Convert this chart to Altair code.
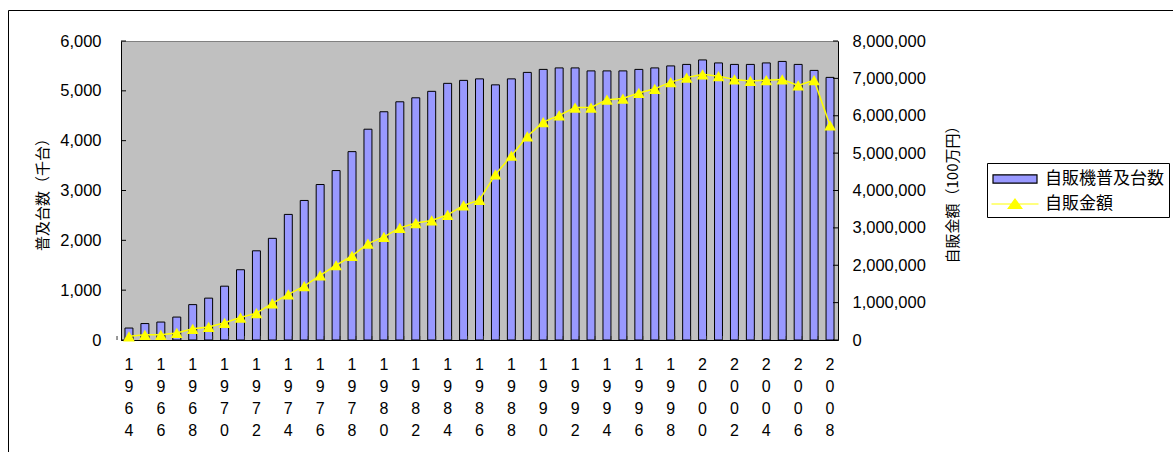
import altair as alt
import pandas as pd

years = list(range(1964, 2009))
units = [240, 330, 360, 460, 710, 840, 1080, 1410, 1790, 2040, 2520, 2800, 3120, 3400, 3780,
         4230, 4580, 4780, 4860, 4990, 5150, 5210, 5240, 5120, 5240, 5370, 5430, 5460, 5460, 5400,
         5400, 5400, 5430, 5460, 5500, 5530, 5620, 5560, 5530, 5530, 5560, 5590, 5530, 5410, 5270]
sales = [100000, 140000, 140000, 190000, 300000, 350000, 460000, 600000, 720000, 980000,
         1220000, 1440000, 1730000, 2000000, 2250000, 2580000, 2760000, 3000000, 3130000, 3200000,
         3350000, 3600000, 3750000, 4430000, 4930000, 5450000, 5830000, 6010000, 6220000, 6220000,
         6430000, 6460000, 6610000, 6720000, 6900000, 7020000, 7110000, 7060000, 6970000, 6930000,
         6950000, 6970000, 6810000, 6950000, 5740000]
left_ticks = [0, 1000, 2000, 3000, 4000, 5000, 6000]
right_ticks = [0, 1000000, 2000000, 3000000, 4000000, 5000000, 6000000, 7000000, 8000000]

S_BAR = "自販機普及台数"
S_LINE = "自販金額"
LEFT_TITLE = "普及台数（千台）"
RIGHT_TITLE = "自販金額（100万円）"

W, H = 717, 299
PAD_L, PAD_T = 121, 41
step = W / len(years)
NUM_FONT = "Liberation Sans"
JP_FONT = "Noto Sans CJK JP"

df_bar = pd.DataFrame({"year": years, "units": units})
df_bar["series"] = S_BAR
df_line = pd.DataFrame({"year": years, "sales": sales})
df_line["series"] = S_LINE
lt = pd.DataFrame({"units": left_ticks})
rt = pd.DataFrame({"sales": right_ticks})

dom = [S_BAR, S_LINE]
fill_scale = alt.Scale(domain=dom, range=["#9999ff", "#ffff00"])
stroke_scale = alt.Scale(domain=dom, range=["#000000", "#ffff00"])
shape_scale = alt.Scale(domain=dom, range=["M-2.2,-0.42H2.2V0.42H-2.2Z",
                                           "M-2.35,0H2.35M-0.68,0.45L0.68,0.45L0,-0.5Z"])
legend = alt.Legend(
    title=None, orient="none", legendX=987 - PAD_L, legendY=163 - PAD_T,
    strokeColor="black", fillColor="white", padding=5,
    symbolSize=400, symbolOffset=12, labelOffset=19, rowPadding=6,
    symbolStrokeWidth=1.2, symbolOpacity=1,
    labelFont=JP_FONT, labelFontSize=17, labelColor="black",
)

xenc = alt.X("year:O", scale=alt.Scale(paddingInner=0.5, paddingOuter=0.25),
             axis=alt.Axis(title=None, labelAngle=0, ticks=False, domainColor="black",
                           labelExpr="toNumber(datum.value) % 2 == 0 ? split(datum.label, '') : ''",
                           labelLineHeight=22, labelPadding=16, labelBaseline="top",
                           labelFont=NUM_FONT, labelFontSize=16, labelColor="black"))

left_scale = alt.Scale(domain=[0, 6000])
right_scale = alt.Scale(domain=[0, 8000000])

left_axis = alt.Axis(orient="left", values=left_ticks, format=",.0f", ticks=False, grid=False,
                     domainColor="black", labelPadding=20, labelFont=NUM_FONT, labelFontSize=16.5,
                     labelColor="black", title=LEFT_TITLE, titleFont=JP_FONT, titleFontSize=15,
                     titleFontWeight="normal", titleColor="black", titleAngle=270,
                     titleBaseline="middle", titleX=42 - PAD_L, titleY=H / 2)
right_axis = alt.Axis(orient="right", values=right_ticks, format=",.0f", ticks=False, grid=False,
                      domainColor="black", labelPadding=14, labelFont=NUM_FONT, labelFontSize=16.5,
                      labelColor="black", title=RIGHT_TITLE, titleFont=JP_FONT, titleFontSize=15,
                      titleFontWeight="normal", titleColor="black", titleAngle=270,
                      titleBaseline="middle", titleX=952 - PAD_L - W, titleY=H / 2)

yl = alt.Y("units:Q", scale=left_scale, axis=left_axis, title=LEFT_TITLE)
yr = alt.Y("sales:Q", scale=right_scale, axis=right_axis, title=RIGHT_TITLE)

bars = alt.Chart(df_bar).mark_bar(strokeWidth=1).encode(
    x=xenc,
    y=yl,
    fill=alt.Fill("series:N", scale=fill_scale, legend=legend),
    stroke=alt.Stroke("series:N", scale=stroke_scale, legend=legend),
)
xticks = alt.Chart(df_bar).mark_rule(color="#333333", strokeWidth=1).encode(
    x=alt.X("year:O"),
    xOffset=alt.value(-step / 2),
    y=alt.value(H - 4), y2=alt.value(H),
)
lticks = alt.Chart(lt).mark_rule(color="black").encode(
    y=yl,
    x=alt.value(0), x2=alt.value(5),
)
border = alt.Chart(alt.Data(values=[{"a": 1}])).mark_rect(
    fill="transparent", stroke="black", strokeWidth=1
).encode(x=alt.value(8.5 - PAD_L), x2=alt.value(1300), y=alt.value(10.5 - PAD_T), y2=alt.value(600))

line = alt.Chart(df_line).mark_line(strokeWidth=1.5).encode(
    x=alt.X("year:O"),
    y=yr,
    stroke=alt.Stroke("series:N", scale=stroke_scale, legend=legend),
)
pts = alt.Chart(df_line).mark_point(shape="triangle-up", filled=True, size=140, opacity=1).encode(
    x=alt.X("year:O"),
    y=yr,
    fill=alt.Fill("series:N", scale=fill_scale, legend=legend),
)
legend_shape = alt.Chart(df_line).transform_filter("false").mark_point().encode(
    x=alt.X("year:O"),
    y=yr,
    shape=alt.Shape("series:N", scale=shape_scale, legend=legend),
)
rticks = alt.Chart(rt).mark_rule(color="black").encode(
    y=yr,
    x=alt.value(W - 5), x2=alt.value(W),
)

left = alt.layer(border, bars, xticks, lticks)
right = alt.layer(line, pts, legend_shape, rticks)

chart = alt.layer(left, right).resolve_scale(y="independent").properties(
    width=W, height=H,
    autosize=alt.AutoSizeParams(type="none"),
    padding={"left": PAD_L, "top": PAD_T, "right": 1173 - PAD_L - W, "bottom": 452 - PAD_T - H},
    background="white",
).configure_view(fill="#c0c0c0", stroke="#808080", strokeWidth=1)

chart.save("out.html", embed_options={"renderer": "svg", "actions": False})
